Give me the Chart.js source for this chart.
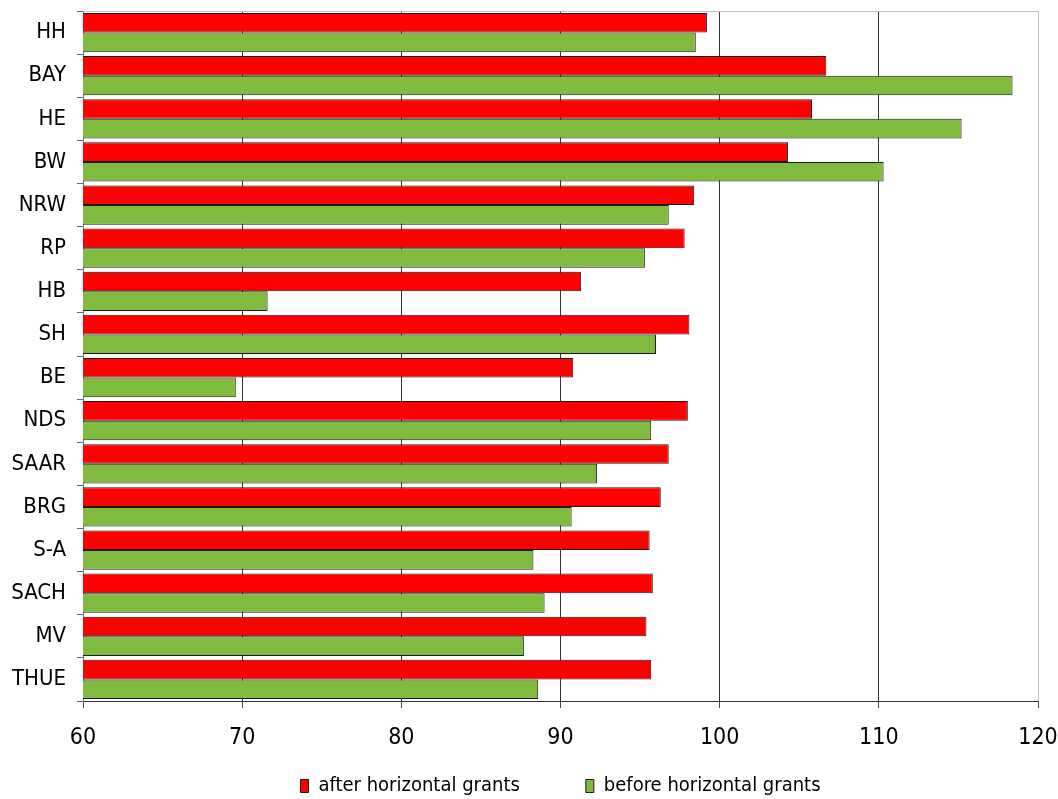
<!DOCTYPE html>
<html>
<head>
<meta charset="utf-8">
<script src="https://cdn.jsdelivr.net/npm/chart.js@4/dist/chart.umd.min.js"></script>
<style>
  html, body { margin: 0; padding: 0; background: #fff; }
  #wrap { width: 1058px; height: 799px; }
</style>
</head>
<body>
<div id="wrap"><canvas id="barChart"></canvas></div>
<script>
"use strict"

//kategorier (delstater), uppifrån och ned
const states = ['HH', 'BAY', 'HE', 'BW', 'NRW', 'RP', 'HB', 'SH', 'BE', 'NDS', 'SAAR', 'BRG', 'S-A', 'SACH', 'MV', 'THUE'];

//värden efter utjämning
const afterGrants = [99.2, 106.7, 105.8, 104.3, 98.4, 97.8, 91.3, 98.1, 90.8, 98.0, 96.8, 96.3, 95.6, 95.8, 95.4, 95.7];
//värden före utjämning
const beforeGrants = [98.5, 118.4, 115.2, 110.3, 96.8, 95.3, 71.6, 96.0, 69.6, 95.7, 92.3, 90.7, 88.3, 89.0, 87.7, 88.6];

//x-axelns gränser
const xMin = 60;
const xMax = 120;
const xStep = 10;

const seriesNames = ['after horizontal grants', 'before horizontal grants'];

const fontFamily = '"Liberation Sans Narrow", "Arial Narrow", "DejaVu Sans Condensed", "Liberation Sans", Arial, sans-serif';

const legendGap = 66;
const legendFontSize = 20;

//ram upptill + flytta legenden under diagramytan
const framePlugin = {
  id: 'frame',
  afterLayout(chart) {
    const lg = chart.legend;
    const area = chart.chartArea;
    lg.left = area.left;
    lg.right = area.right;
    lg.top = 786 - legendGap - legendFontSize / 2;
    lg.bottom = chart.height;
  },
  afterDraw(chart) {
    const ctx = chart.ctx;
    const area = chart.chartArea;
    ctx.save();
    ctx.strokeStyle = '#bfbfbf';
    ctx.lineWidth = 1;
    ctx.beginPath();
    ctx.moveTo(area.left, area.top + 0.5);
    ctx.lineTo(area.right, area.top + 0.5);
    ctx.stroke();
    ctx.restore();
  }
};

const barChartEl = document.getElementById('barChart');

new Chart(barChartEl, {
  type: 'bar',
  data: {
    labels: states,
    datasets: [{
      label: seriesNames[0],
      data: afterGrants,
      backgroundColor: '#ff0000',
      borderColor: '#1a1a1a',
      borderWidth: 1,
      borderSkipped: false
    }, {
      label: seriesNames[1],
      data: beforeGrants,
      backgroundColor: '#80bb40',
      borderColor: '#1a1a1a',
      borderWidth: 1,
      borderSkipped: false
    }]
  },
  options: {
    indexAxis: 'y',
    responsive: true,
    maintainAspectRatio: false,
    animation: false,
    categoryPercentage: 0.91,
    barPercentage: 1,
    layout: {
      padding: { top: 11, right: 20, left: 0, bottom: 0 }
    },
    plugins: {
      tooltip: { enabled: false },
      legend: {
        position: 'bottom',
        maxHeight: 37,
        labels: {
          font: { family: fontFamily, size: legendFontSize },
          color: '#000',
          boxWidth: 8,
          boxHeight: 13,
          padding: legendGap
        }
      }
    },
    scales: {
      x: {
        min: xMin,
        max: xMax,
        afterFit(scale) {
          scale.height = 61;
          scale.paddingLeft = 0;
          scale.paddingRight = 0;
        },
        ticks: {
          stepSize: xStep,
          font: { family: fontFamily, size: 23 },
          color: '#000',
          padding: 16,
          maxRotation: 0
        },
        grid: {
          color: ctx => (ctx.tick && ctx.tick.value === xMax) ? '#bfbfbf' : '#333',
          tickColor: '#444',
          tickLength: 7
        },
        border: { color: '#333' }
      },
      y: {
        afterFit(scale) {
          scale.width = 83;
          scale.paddingTop = 0;
          scale.paddingBottom = 0;
        },
        ticks: {
          font: { family: fontFamily, size: 22 },
          color: '#000',
          padding: 11
        },
        grid: {
          drawOnChartArea: false,
          tickColor: '#666',
          tickLength: 6
        },
        border: { color: '#7f7f7f' }
      }
    }
  },
  plugins: [framePlugin]
});
</script>
</body>
</html>
